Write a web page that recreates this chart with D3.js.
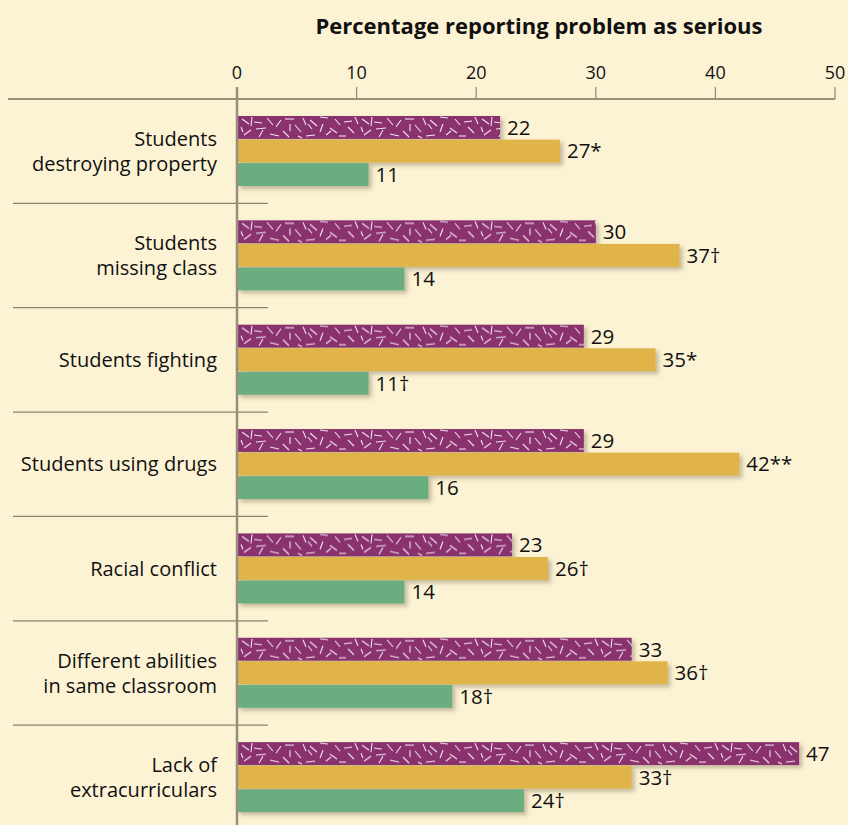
<!DOCTYPE html>
<meta charset="utf-8">
<style>
    body { margin: 0; background: #fcf3d4; }
    svg { display: block; font-family: "Open Sans", Roboto, sans-serif; }
    .cat text { font-size: 20px; font-weight: 500; fill: #111; text-anchor: end; }
    .val { font-size: 20.5px; font-weight: 500; fill: #111; }
    .tick-label { font-size: 18px; font-weight: 400; fill: #111; text-anchor: middle; }
</style>
<svg width="848" height="825"></svg>
<script src="https://cdnjs.cloudflare.com/ajax/libs/d3/7.8.5/d3.min.js"></script>
<script>

    var categories = [
        ["Students", "destroying property"],
        ["Students", "missing class"],
        ["Students fighting"],
        ["Students using drugs"],
        ["Racial conflict"],
        ["Different abilities", "in same classroom"],
        ["Lack of", "extracurriculars"]
    ];
    var seriesNames = ["purple", "gold", "green"];
    var purpleValues = [22, 30, 29, 29, 23, 33, 47];
    var goldValues = [27, 37, 35, 42, 26, 36, 33];
    var greenValues = [11, 14, 11, 16, 14, 18, 24];
    var purpleMarks = ["", "", "", "", "", "", ""];
    var goldMarks = ["*", "\u2020", "*", "**", "\u2020", "\u2020", "\u2020"];
    var greenMarks = ["", "", "\u2020", "", "", "\u2020", "\u2020"];
    var xTicks = [0, 10, 20, 30, 40, 50];
    var title = "Percentage reporting problem as serious";

    var colors = { purple: "#89306d", gold: "#e1b44a", green: "#6aae80" };
    var axisColor = "#978e7c";

    var svg = d3.select("svg");
    var defs = svg.append("defs");

    // speckled texture for the purple bars (hand-placed dashes in a 120x23 tile)
    var dashes = [
        [2, 3, 9, 8], [12, 1, 11, 10], [16, 13, 26, 12], [27, 2, 33, 9],
        [36, 11, 41, 4], [45, 3, 54, 3], [55, 9, 61, 16], [4, 19, 11, 14],
        [19, 21, 23, 14], [30, 18, 39, 20], [43, 15, 49, 21], [63, 2, 66, 9],
        [1, 11, 3, 16], [50, 8, 50, 15], [14, 6, 22, 7], [66, 20, 75, 19],
        [70, 4, 77, 10], [80, 1, 88, 2], [83, 8, 80, 16], [90, 12, 97, 17],
        [95, 3, 100, 9], [104, 6, 112, 5], [108, 11, 114, 17], [99, 20, 106, 20],
        [115, 1, 118, 8], [86, 19, 91, 15], [72, 13, 68, 8], [58, 20, 62, 22]
    ];
    var pat = defs.append("pattern")
        .attr("id", "speckle")
        .attr("patternUnits", "userSpaceOnUse")
        .attr("x", 0).attr("y", 17)
        .attr("width", 120).attr("height", 23);
    pat.append("rect").attr("width", 120).attr("height", 23).attr("fill", colors.purple);
    pat.selectAll("line").data(dashes).enter().append("line")
        .attr("x1", d => d[0]).attr("y1", d => d[1])
        .attr("x2", d => d[2]).attr("y2", d => d[3])
        .attr("stroke", "#f3e4ec").attr("stroke-width", 1.1);

    var shadow = defs.append("filter").attr("id", "shadow")
        .attr("x", "-5%").attr("y", "-20%").attr("width", "115%").attr("height", "160%");
    shadow.append("feDropShadow")
        .attr("dx", 3).attr("dy", 3).attr("stdDeviation", 2)
        .attr("flood-color", "#5a4a30").attr("flood-opacity", 0.35);

    var x = d3.scaleLinear().domain([0, 50]).range([237, 835]);
    var y = d3.scaleBand().domain(d3.range(categories.length)).range([99, 829.5]);
    var inner = d3.scaleBand().domain(seriesNames).range([17, 87]).paddingInner(0.03);

    var rows = categories.map(function(c, i) {
        return {
            label: c,
            bars: [
                { s: "purple", v: purpleValues[i], m: purpleMarks[i] },
                { s: "gold", v: goldValues[i], m: goldMarks[i] },
                { s: "green", v: greenValues[i], m: greenMarks[i] }
            ]
        };
    });

    // title
    svg.append("text")
        .attr("x", 539).attr("y", 34)
        .attr("text-anchor", "middle")
        .style("font-size", "22px").style("font-weight", 700).style("fill", "#111")
        .text(title);

    // separators between groups
    svg.selectAll(".sep").data(d3.range(1, categories.length)).enter().append("line")
        .attr("class", "sep")
        .attr("x1", 13).attr("x2", 268)
        .attr("y1", d => y(d)).attr("y2", d => y(d))
        .attr("stroke", "#8a8271").attr("stroke-width", 1.3);

    var group = svg.selectAll(".grp").data(rows).enter().append("g")
        .attr("class", "grp")
        .attr("transform", (d, i) => "translate(0," + y(i) + ")");

    group.selectAll("rect").data(d => d.bars).enter().append("rect")
        .attr("x", x(0))
        .attr("y", d => inner(d.s))
        .attr("width", d => x(d.v) - x(0))
        .attr("height", inner.bandwidth())
        .attr("fill", d => d.s === "purple" ? "url(#speckle)" : colors[d.s])
        .attr("filter", "url(#shadow)");

    group.selectAll(".val").data(d => d.bars).enter().append("text")
        .attr("class", "val")
        .attr("x", d => x(d.v) + 7)
        .attr("y", d => inner(d.s) + inner.bandwidth() / 2)
        .attr("dy", "0.36em")
        .text(d => d.v + d.m);

    var cat = group.append("g").attr("class", "cat");
    cat.each(function(d) {
        var lines = d.label;
        var mid = y.bandwidth() / 2;
        d3.select(this).selectAll("text").data(lines).enter().append("text")
            .attr("x", 217)
            .attr("y", (l, j) => mid + (j - (lines.length - 1) / 2) * 25)
            .attr("dy", "0.36em")
            .text(l => l);
    });

    // top axis
    svg.append("line")
        .attr("x1", 8).attr("x2", x(50))
        .attr("y1", 99).attr("y2", 99)
        .attr("stroke", axisColor).attr("stroke-width", 2);
    svg.selectAll(".tk").data(xTicks).enter().append("line")
        .attr("class", "tk")
        .attr("x1", d => x(d)).attr("x2", d => x(d))
        .attr("y1", 87).attr("y2", 99)
        .attr("stroke", axisColor).attr("stroke-width", 1.3);
    svg.selectAll(".tick-label").data(xTicks).enter().append("text")
        .attr("class", "tick-label")
        .attr("x", d => x(d)).attr("y", 79)
        .text(d => d);

    // zero line
    svg.append("line")
        .attr("x1", x(0)).attr("x2", x(0))
        .attr("y1", 87).attr("y2", 825)
        .attr("stroke", axisColor).attr("stroke-width", 2.5);

</script>
